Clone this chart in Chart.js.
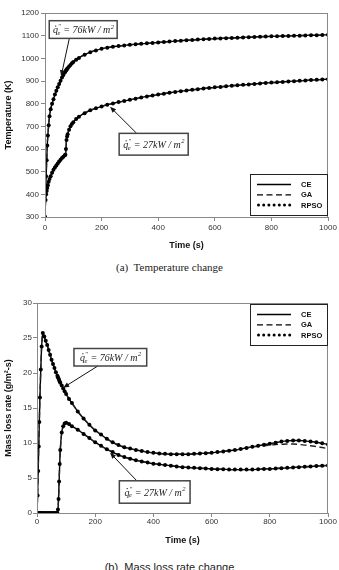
<!DOCTYPE html>
<html>
<head>
<meta charset="utf-8">
<script src="https://cdn.jsdelivr.net/npm/chart.js@4.4.1/dist/chart.umd.min.js"></script>
<style>
  body { margin: 0; background: #fff; }
  #page { position: relative; width: 339px; height: 570px; overflow: hidden; }
  .box { position: absolute; left: 0; width: 339px; }
  .cap { position: absolute; left: 0; width: 339px; text-align: center; color: #222; white-space: pre; }
</style>
</head>
<body>
<div id="page">
  <div class="box" style="top:0;height:256px"><canvas class="chart-temp"></canvas></div>
  <div class="cap" style="top:261px;font:11px 'Liberation Serif'">(a)  Temperature change</div>
  <div class="box" style="top:285px;height:265px"><canvas class="chart-mass"></canvas></div>
  <div class="cap" style="top:561px;font:11px 'Liberation Sans'">(b)  Mass loss rate change</div>
</div>
<script>
// time (s), same grid for every series
const time = [0, 2, 4, 6, 8, 10, 13, 16, 20, 25, 30, 35, 40, 45, 50, 55, 60, 65, 70, 72, 74, 76, 78, 80, 85, 90, 95, 100, 110, 120,
  140, 160, 180, 200, 220, 240, 260, 280, 300, 320, 340, 360, 380, 400, 420, 440, 460, 480, 500, 520, 540, 560, 580, 600,
  620, 640, 660, 680, 700, 720, 740, 760, 780, 800, 820, 840, 860, 880, 900, 920, 940, 960, 980, 1000];

// temperature (K)
const temp76 = [300, 400, 480, 550, 615, 660, 705, 745, 775, 800, 820, 840, 857, 872, 887, 901, 915, 927, 938, 942, 946, 950, 953, 956, 964, 971, 978, 984, 994, 1002,
  1016, 1027, 1035, 1042, 1047, 1051, 1054, 1057, 1060, 1062, 1064, 1066, 1068, 1070, 1072, 1074, 1076, 1078, 1080, 1081, 1083, 1084, 1085, 1087,
  1088, 1089, 1090, 1091, 1092, 1093, 1094, 1095, 1096, 1097, 1097, 1098, 1099, 1100, 1100, 1101, 1102, 1102, 1103, 1104];
const temp27 = [300, 375, 400, 415, 428, 440, 455, 468, 480, 495, 508, 518, 527, 536, 545, 553, 560, 566, 572, 575, 600, 640, 655, 665, 685, 700, 710, 718, 732, 742,
  758, 771, 780, 788, 795, 801, 807, 812, 817, 822, 827, 832, 836, 840, 844, 848, 852, 855, 858, 861, 864, 867, 869, 872,
  874, 877, 879, 881, 883, 885, 887, 889, 891, 893, 894, 896, 898, 899, 901, 902, 904, 905, 907, 908];

// mass loss rate (g/m2-s)
const mass76 = [0, 2.5, 6, 9.5, 13, 16.5, 20.5, 23.8, 25.7, 25.2, 24.6, 24.0, 23.3, 22.6, 21.9, 21.3, 20.7, 20.1, 19.6, 19.4, 19.2, 19.0, 18.8, 18.6, 18.2, 17.8, 17.4, 17.0, 16.3, 15.7,
  14.5, 13.5, 12.6, 11.8, 11.2, 10.6, 10.1, 9.7, 9.4, 9.2, 9.0, 8.85, 8.7, 8.6, 8.5, 8.45, 8.4, 8.4, 8.4, 8.4, 8.45, 8.5, 8.55, 8.6,
  8.7, 8.8, 8.9, 9.0, 9.15, 9.3, 9.45, 9.6, 9.75, 9.9, 10.05, 10.2, 10.3, 10.35, 10.35, 10.3, 10.2, 10.1, 9.95, 9.8];
const mass27 = [0, 0, 0, 0, 0, 0, 0, 0, 0, 0, 0, 0, 0, 0, 0, 0, 0, 0, 0, 0.5, 2, 4.5, 7, 9, 11.5, 12.4, 12.8, 12.9, 12.7, 12.4,
  11.9, 11.3, 10.7, 10.1, 9.6, 9.1, 8.7, 8.3, 8.0, 7.75, 7.55, 7.35, 7.2, 7.05, 6.95, 6.85, 6.75, 6.65, 6.55, 6.5, 6.45, 6.4, 6.35, 6.3,
  6.25, 6.25, 6.2, 6.2, 6.2, 6.2, 6.2, 6.25, 6.3, 6.3, 6.35, 6.4, 6.45, 6.5, 6.55, 6.6, 6.65, 6.7, 6.75, 6.8];

// GA splits off from the 76 kW curve near the end
const gaTime = [760, 780, 800, 820, 840, 860, 880, 900, 920, 940, 960, 980, 1000];
const gaMass76 = [9.5, 9.6, 9.7, 9.78, 9.82, 9.85, 9.85, 9.8, 9.7, 9.6, 9.5, 9.35, 9.2];

const mass76GA = time.map((t, i) => gaTime.includes(t) ? gaMass76[gaTime.indexOf(t)] : mass76[i]);

function toPoints(ys) {
  return time.map((t, i) => ({ x: t, y: ys[i] }));
}

function makeSets(hi, lo, hiGA, loGA) {
  const solid = { borderColor: '#000', borderWidth: 1.4, pointRadius: 0, order: 2, cubicInterpolationMode: 'monotone' };
  const dash = { borderColor: '#222', borderWidth: 1.4, borderDash: [6, 3.5], pointRadius: 0, order: 1, cubicInterpolationMode: 'monotone' };
  const dots = { showLine: false, pointRadius: 2, pointBackgroundColor: '#000', pointBorderColor: '#000', pointBorderWidth: 0, order: 0 };
  return [
    Object.assign({ label: 'CE', data: toPoints(hi) }, solid),
    Object.assign({ label: 'CE', data: toPoints(lo) }, solid),
    Object.assign({ label: 'GA', data: toPoints(hiGA) }, dash),
    Object.assign({ label: 'GA', data: toPoints(loGA) }, dash),
    Object.assign({ label: 'RPSO', data: toPoints(hi) }, dots),
    Object.assign({ label: 'RPSO', data: toPoints(lo) }, dots)
  ];
}

// flux label like  q''e = 76kW / m2
function drawFlux(ctx, cx, cy, value) {
  const size = 10;
  const big = "italic " + size + "px 'Liberation Serif'";
  const small = "italic 6.5px 'Liberation Serif'";
  const rest = ' = ' + value + 'kW / m';
  ctx.font = big;
  const wq = ctx.measureText('q').width;
  const wr = ctx.measureText(rest).width;
  ctx.font = small;
  const we = ctx.measureText('e').width;
  const w2 = ctx.measureText('2').width;
  let x = cx - (wq + we + wr + w2) / 2;
  const base = cy + 3.5;
  ctx.fillStyle = '#222';
  ctx.textBaseline = 'alphabetic';
  ctx.textAlign = 'left';
  ctx.font = big;
  ctx.fillText('q', x, base);
  ctx.fillRect(x + wq * 0.45, base - 7.5, 1.1, 1.1);
  ctx.font = small;
  ctx.fillText('\u2033', x + wq, base - 5);
  ctx.fillText('e', x + wq - 0.5, base + 1.8);
  x += wq + we;
  ctx.font = big;
  ctx.fillText(rest, x, base);
  x += wr;
  ctx.font = small;
  ctx.fillText('2', x + 0.5, base - 4.5);
}

const extras = {
  id: 'extras',
  afterDraw(chart, args, opts) {
    const ctx = chart.ctx;
    const a = chart.chartArea;
    const xs = chart.scales.x;
    const ys = chart.scales.y;
    ctx.save();
    // frame round plot
    ctx.strokeStyle = '#888';
    ctx.lineWidth = 1;
    ctx.strokeRect(a.left + 0.5, a.top + 0.5, a.right - a.left - 1, a.bottom - a.top);

    // notes with arrows
    opts.notes.forEach(n => {
      const x1 = xs.getPixelForValue(n.box[0]), y1 = ys.getPixelForValue(n.box[1]);
      const x2 = xs.getPixelForValue(n.box[2]), y2 = ys.getPixelForValue(n.box[3]);
      const fx = xs.getPixelForValue(n.from[0]), fy = ys.getPixelForValue(n.from[1]);
      const tx = xs.getPixelForValue(n.to[0]), ty = ys.getPixelForValue(n.to[1]);
      const ang = Math.atan2(ty - fy, tx - fx);
      ctx.strokeStyle = '#111';
      ctx.lineWidth = 1;
      ctx.beginPath();
      ctx.moveTo(fx, fy);
      ctx.lineTo(tx - Math.cos(ang) * 4, ty - Math.sin(ang) * 4);
      ctx.stroke();
      ctx.fillStyle = '#111';
      ctx.beginPath();
      ctx.moveTo(tx, ty);
      ctx.lineTo(tx - Math.cos(ang) * 6 - Math.sin(ang) * 2.5, ty - Math.sin(ang) * 6 + Math.cos(ang) * 2.5);
      ctx.lineTo(tx - Math.cos(ang) * 6 + Math.sin(ang) * 2.5, ty - Math.sin(ang) * 6 - Math.cos(ang) * 2.5);
      ctx.closePath();
      ctx.fill();
      ctx.fillStyle = '#fff';
      ctx.fillRect(x1, y1, x2 - x1, y2 - y1);
      ctx.strokeStyle = '#444';
      ctx.lineWidth = 1.5;
      ctx.strokeRect(x1, y1, x2 - x1, y2 - y1);
      drawFlux(ctx, (x1 + x2) / 2, (y1 + y2) / 2, n.label);
    });

    // legend box
    const w = 78, h = 41;
    const bx = a.right - w;
    const by = opts.keyAt === 'top' ? a.top + 1 : a.bottom - h - 2;
    ctx.fillStyle = '#fff';
    ctx.fillRect(bx, by, w, h);
    ctx.strokeStyle = '#222';
    ctx.lineWidth = 1;
    ctx.strokeRect(bx + 0.5, by + 0.5, w - 1, h);
    const names = [];
    chart.data.datasets.forEach(d => { if (!names.includes(d.label)) names.push(d.label); });
    names.forEach((name, i) => {
      const ry = by + 10.5 + i * 10.3;
      ctx.strokeStyle = '#000';
      ctx.fillStyle = '#000';
      ctx.lineWidth = 1.3;
      if (name === 'RPSO') {
        for (let k = 0; k < 7; k++) {
          ctx.beginPath();
          ctx.arc(bx + 8.5 + k * 5.2, ry, 1.5, 0, Math.PI * 2);
          ctx.fill();
        }
      } else {
        ctx.setLineDash(name === 'GA' ? [6, 3.5] : []);
        ctx.beginPath();
        ctx.moveTo(bx + 7, ry);
        ctx.lineTo(bx + 41, ry);
        ctx.stroke();
        ctx.setLineDash([]);
      }
      ctx.font = "bold 7.5px 'Liberation Sans'";
      ctx.textAlign = 'left';
      ctx.textBaseline = 'middle';
      ctx.fillStyle = '#111';
      ctx.fillText(name, bx + 51, ry + 0.5);
    });
    ctx.restore();
  }
};

function createChart(canvas, datasets, s) {
  new Chart(canvas, {
    type: 'line',
    data: { datasets: datasets },
    plugins: [extras],
    options: {
      responsive: true,
      maintainAspectRatio: false,
      animation: false,
      layout: { padding: { top: s.top, right: 11, left: 0, bottom: 0 } },
      plugins: {
        legend: { display: false },
        tooltip: { enabled: false },
        extras: { notes: s.notes, keyAt: s.keyAt }
      },
      scales: {
        x: {
          type: 'linear',
          min: 0,
          max: 1000,
          afterFit(scale) { scale.height = s.xHeight; },
          ticks: { stepSize: 200, color: '#333', padding: s.xPad, maxRotation: 0, callback: v => String(v), font: { family: 'Liberation Sans', size: 8 } },
          grid: { drawOnChartArea: false, tickLength: 4, color: '#888' },
          border: { color: '#888' },
          title: { display: true, text: 'Time (s)', color: '#111', padding: { top: 2, bottom: s.titlePad }, font: { family: 'Liberation Sans', size: 9, weight: 'bold' } }
        },
        y: {
          min: s.yMin,
          max: s.yMax,
          afterFit(scale) { scale.width = s.yWidth; },
          ticks: { stepSize: s.yStep, color: '#333', padding: s.yPad, callback: v => String(v), font: { family: 'Liberation Sans', size: 8 } },
          grid: { drawOnChartArea: false, tickLength: 4, color: '#888' },
          border: { color: '#888' },
          title: { display: true, text: s.yTitle, color: '#111', padding: { top: 3, bottom: 0 }, font: { family: 'Liberation Sans', size: 9, weight: 'bold' } }
        }
      }
    }
  });
}

createChart(document.querySelector('.chart-temp'), makeSets(temp76, temp27, temp76, temp27), {
  top: 13, xHeight: 39, xPad: 2, titlePad: 5, yWidth: 45, yPad: 2,
  yMin: 300, yMax: 1200, yStep: 100, yTitle: 'Temperature (K)', keyAt: 'bottom',
  notes: [
    { label: '76', box: [15, 1166, 255, 1088], from: [86, 1088], to: [57, 921] },
    { label: '27', box: [262, 669, 506, 573], from: [324, 669], to: [230, 786] }
  ]
});

createChart(document.querySelector('.chart-mass'), makeSets(mass76, mass27, mass76GA, mass27), {
  top: 18, xHeight: 37, xPad: 0, titlePad: 4, yWidth: 37, yPad: 1,
  yMin: 0, yMax: 30, yStep: 5, yTitle: 'Mass loss rate (g/m\u00b2-s)', keyAt: 'top',
  notes: [
    { label: '76', box: [127, 23.5, 377, 21], from: [209, 21], to: [90, 17.9] },
    { label: '27', box: [283, 4.6, 526, 1.4], from: [343, 4.6], to: [251, 8.6] }
  ]
});
</script>
</body>
</html>
